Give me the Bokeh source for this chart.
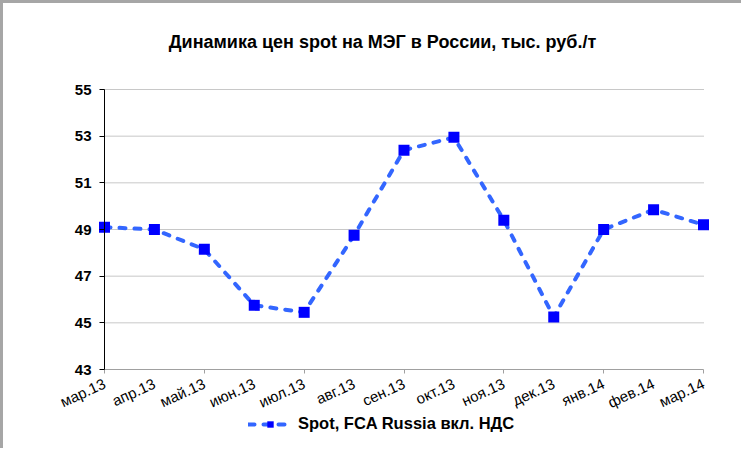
from bokeh.plotting import figure
from bokeh.models import Range1d, FixedTicker, Legend, LegendItem, ColumnDataSource, Label
from bokeh.embed import file_html
from bokeh.resources import INLINE

months = ["мар.13", "апр.13", "май.13", "июн.13", "июл.13", "авг.13", "сен.13",
          "окт.13", "ноя.13", "дек.13", "янв.14", "фев.14", "мар.14"]
spot = [49.1, 49.0, 48.15, 45.75, 45.45, 48.75, 52.4, 52.95, 49.4, 45.25, 49.0, 49.85, 49.2]
y_ticks = [43, 45, 47, 49, 51, 53, 55]
title_text = "Динамика цен spot на МЭГ в России, тыс. руб./т"
series_name = "Spot, FCA Russia вкл. НДС"

FONT = "Liberation Sans"

# pixel layout (page coordinates)
CANVAS_X0, CANVAS_Y0, W, H = 3, 3, 741, 448
PLOT_L, PLOT_R, PLOT_T, PLOT_B = 104, 703, 89, 369
TITLE_X, TITLE_Y = 382, 41
LEG_X, LEG_BOTTOM = 248, 433

n = len(months)
ymin, ymax = y_ticks[0], y_ticks[-1]
xs = (PLOT_R - PLOT_L) / (n - 1)
ys = (PLOT_B - PLOT_T) / (ymax - ymin)
x_start = (CANVAS_X0 - PLOT_L) / xs
x_end = x_start + W / xs
y_end = ymax + (PLOT_T - CANVAS_Y0) / ys
y_start = y_end - H / ys

idx = list(range(n))
src = ColumnDataSource(data=dict(x=idx, y=spot))
grid_src = ColumnDataSource(data=dict(x0=[idx[0]] * (len(y_ticks) - 1), x1=[idx[-1]] * (len(y_ticks) - 1),
                                      y=y_ticks[1:]))

p = figure(width=W, height=H, output_backend="svg", toolbar_location=None,
           x_range=Range1d(x_start, x_end), y_range=Range1d(y_start, y_end),
           min_border=0, min_border_left=0, min_border_right=0, min_border_top=0, min_border_bottom=0,
           styles={"border-left": "3px solid #a6a6a6", "border-top": "3px solid #a6a6a6"})
p.outline_line_color = None
p.background_fill_color = "white"
p.border_fill_color = "white"
p.xgrid.visible = False
p.ygrid.visible = False

# horizontal gridlines
p.segment(x0="x0", x1="x1", y0="y", y1="y", source=grid_src,
          line_color="#909090", line_width=1, line_dash="1 1")

# y axis
p.yaxis.fixed_location = idx[0]
p.yaxis.bounds = (ymin, ymax)
p.yaxis.ticker = FixedTicker(ticks=y_ticks)
p.yaxis.axis_line_color = "black"
p.yaxis.major_tick_line_color = "black"
p.yaxis.major_tick_out = 5
p.yaxis.major_tick_in = 0
p.yaxis.minor_tick_line_color = None
p.yaxis.major_label_text_font = FONT
p.yaxis.major_label_text_font_style = "bold"
p.yaxis.major_label_text_font_size = "15px"
p.yaxis.major_label_text_color = "black"
p.yaxis.major_label_standoff = 8

# x axis
p.xaxis.fixed_location = ymin
p.xaxis.bounds = (idx[0], idx[-1])
p.xaxis.ticker = FixedTicker(ticks=idx, minor_ticks=idx[::2])
p.xaxis.major_label_overrides = {i: m for i, m in zip(idx, months)}
p.xaxis.axis_line_color = "#a0a0a0"
p.xaxis.major_tick_line_color = None
p.xaxis.minor_tick_line_color = "#a0a0a0"
p.xaxis.minor_tick_out = 4
p.xaxis.minor_tick_in = 0
p.xaxis.major_label_orientation = 0.43
p.xaxis.major_label_text_font = FONT
p.xaxis.major_label_text_font_size = "15px"
p.xaxis.major_label_text_color = "black"
p.xaxis.major_label_standoff = 7

line = p.line("x", "y", source=src, line_color="#3366ff", line_width=4,
              line_dash="6 9", line_cap="round", line_join="round")
marks = p.scatter("x", "y", source=src, marker="square", size=11,
                  fill_color="#0000ff", line_color=None)

# title
p.add_layout(Label(x=(TITLE_X - PLOT_L) / xs, y=ymin + (PLOT_B - TITLE_Y) / ys,
                   text=title_text, text_align="center", text_baseline="middle",
                   text_font=FONT, text_font_style="bold", text_font_size="18px",
                   text_color="black"))

# legend (inside the frame, which covers the whole canvas)
legend = Legend(items=[LegendItem(label=series_name, renderers=[line, marks])],
                location=(LEG_X - CANVAS_X0, CANVAS_Y0 + H - LEG_BOTTOM),
                orientation="horizontal",
                glyph_width=44, glyph_height=16, label_standoff=6,
                padding=0, spacing=0, margin=0,
                border_line_color=None, background_fill_alpha=0,
                label_text_font=FONT, label_text_font_style="bold",
                label_text_font_size="16.5px", label_text_color="black")
p.add_layout(legend, "center")

open("out.html", "w").write(file_html(p, INLINE))
